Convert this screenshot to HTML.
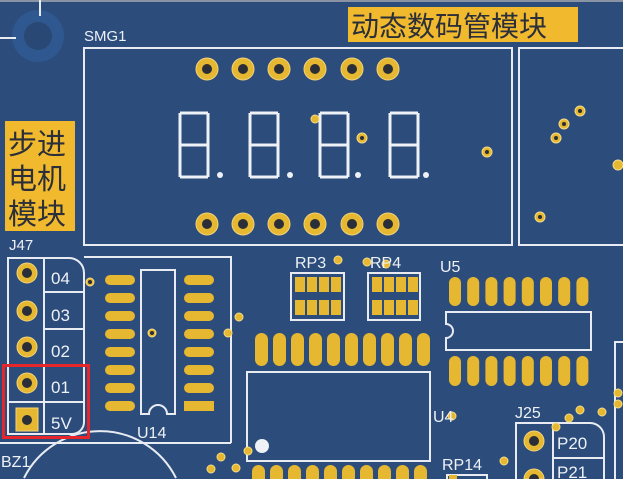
<!DOCTYPE html>
<html><head><meta charset="utf-8"><style>
html,body{margin:0;padding:0;background:#2c4d7c;width:623px;height:479px;overflow:hidden;}
svg{display:block;position:absolute;left:0;top:0}
text{font-family:"Liberation Sans","Noto Sans CJK SC",sans-serif;}
</style></head><body>
<svg width="623" height="479" viewBox="0 0 623 479" xmlns="http://www.w3.org/2000/svg">
<rect width="623" height="479" fill="#2c4d7c"/>
<line x1="0" y1="1" x2="623" y2="1" fill="none" stroke="#8a93a3" stroke-width="2"/>
<circle cx="38" cy="36" r="26" fill="#2f5790"/>
<circle cx="38" cy="36" r="14" fill="#294873"/>
<line x1="40" y1="0" x2="40" y2="16" stroke="#e8ecf2" stroke-width="2"/>
<line x1="0" y1="38" x2="16" y2="38" stroke="#e8ecf2" stroke-width="2"/>

<g fill="none" stroke="#e8ecf2" stroke-width="2">
<rect x="84" y="48" width="428" height="197"/>
<path d="M623 48 H519 V245 H623"/>
<path d="M8 258 H68 A15 15 0 0 1 84 273 V422 A12 12 0 0 1 72 434 H8 Z"/>
<line x1="44" y1="258" x2="44" y2="434"/>
<line x1="44" y1="292" x2="84" y2="292"/>
<line x1="44" y1="329" x2="84" y2="329"/>
<line x1="44" y1="366" x2="84" y2="366"/>
<line x1="8" y1="402" x2="84" y2="402"/>
<path d="M84 257 H231 V443 M0 443 H231"/>
<path d="M141 270 H175 V414 H167 A9 9 0 0 0 149 414 H141 Z"/>
<path d="M24 478 A85 85 0 0 1 176 478"/>
<rect x="291" y="273" width="53" height="47"/>
<rect x="368" y="273" width="52" height="47"/>
<rect x="247" y="372" width="183" height="89"/>
<path d="M446 312 H591 V350 H446 V338 A7 7 0 0 0 446 324 Z"/>
<path d="M623 342 H615 V479"/>
<path d="M516 479 V423 H590 A14 14 0 0 1 604 437 V479"/>
<line x1="553" y1="423" x2="553" y2="479"/>
<line x1="553" y1="458" x2="604" y2="458"/>
<path d="M447 479 V475 H487 V479"/>
</g>

<g fill="none" stroke="#eef1f5" stroke-width="3">
<g id="d"><path d="M180 113 H208 M180 145 H208 M180 177 H208 M180 113 V177 M208 113 V177"/></g>
<use href="#d" x="70"/><use href="#d" x="140"/><use href="#d" x="210"/>
</g>
<g fill="#eef1f5"><circle cx="220" cy="175" r="3"/><circle cx="290" cy="175" r="3"/><circle cx="358" cy="175" r="3"/><circle cx="426" cy="175" r="3"/>
<circle cx="262" cy="446" r="7"/></g>

<g fill="#e6b730" stroke="#f3d37a" stroke-width="1">
<circle cx="207" cy="69" r="11"/><circle cx="243" cy="69" r="11"/><circle cx="279" cy="69" r="11"/><circle cx="315" cy="69" r="11"/><circle cx="352" cy="69" r="11"/><circle cx="388" cy="69" r="11"/>
<circle cx="207" cy="224" r="11"/><circle cx="243" cy="224" r="11"/><circle cx="279" cy="224" r="11"/><circle cx="315" cy="224" r="11"/><circle cx="352" cy="224" r="11"/><circle cx="388" cy="224" r="11"/>
<circle cx="27" cy="273" r="10"/><circle cx="27" cy="311" r="10"/><circle cx="27" cy="347" r="10"/><circle cx="27" cy="383" r="10"/>
<rect x="16" y="408" width="22" height="23"/>
<circle cx="534" cy="441" r="10"/><path d="M524 479 A10 10 0 0 1 544 479 Z"/>
</g>
<g fill="#2a2e38">
<circle cx="207" cy="69" r="5"/><circle cx="243" cy="69" r="5"/><circle cx="279" cy="69" r="5"/><circle cx="315" cy="69" r="5"/><circle cx="352" cy="69" r="5"/><circle cx="388" cy="69" r="5"/>
<circle cx="207" cy="224" r="5"/><circle cx="243" cy="224" r="5"/><circle cx="279" cy="224" r="5"/><circle cx="315" cy="224" r="5"/><circle cx="352" cy="224" r="5"/><circle cx="388" cy="224" r="5"/>
<circle cx="27" cy="273" r="5"/><circle cx="27" cy="311" r="5"/><circle cx="27" cy="347" r="5"/><circle cx="27" cy="383" r="5"/><circle cx="27" cy="420" r="5"/>
<circle cx="534" cy="441" r="5"/><path d="M529 479 A5 5 0 0 1 539 479 Z"/>
</g>

<g fill="#e6b730" stroke="#f5dc8a" stroke-width="1">
<circle cx="487" cy="152" r="5"/><circle cx="362" cy="138" r="5"/><circle cx="315" cy="119" r="4"/>
<circle cx="580" cy="111" r="5"/><circle cx="564" cy="124" r="5"/><circle cx="556" cy="138" r="5"/><circle cx="540" cy="217" r="5"/><circle cx="618" cy="165" r="5"/>
<circle cx="90" cy="282" r="4"/><circle cx="152" cy="333" r="4"/><circle cx="239" cy="317" r="4"/><circle cx="228" cy="333" r="4"/>
<circle cx="221" cy="457" r="4"/><circle cx="211" cy="469" r="4"/><circle cx="236" cy="468" r="4"/><circle cx="248" cy="451" r="4"/>
<circle cx="338" cy="260" r="4"/><circle cx="367" cy="262" r="4"/><circle cx="386" cy="264" r="4"/><circle cx="452" cy="416" r="4"/>
<circle cx="504" cy="461" r="4"/><circle cx="580" cy="410" r="4"/><circle cx="602" cy="412" r="4"/><circle cx="569" cy="418" r="4"/>
<circle cx="618" cy="393" r="4"/><circle cx="618" cy="404" r="4"/><circle cx="556" cy="427" r="4"/>
</g>
<g fill="#2a2e38"><circle cx="487" cy="152" r="2"/><circle cx="362" cy="138" r="2"/><circle cx="580" cy="111" r="2"/><circle cx="564" cy="124" r="2"/><circle cx="556" cy="138" r="2"/><circle cx="540" cy="217" r="2"/><circle cx="152" cy="333" r="2"/><circle cx="90" cy="282" r="2"/></g>

<g fill="#e6b730">
<rect x="105" y="275" width="30" height="10" rx="5"/><rect x="105" y="293" width="30" height="10" rx="5"/><rect x="105" y="311" width="30" height="10" rx="5"/><rect x="105" y="329" width="30" height="10" rx="5"/><rect x="105" y="347" width="30" height="10" rx="5"/><rect x="105" y="365" width="30" height="10" rx="5"/><rect x="105" y="383" width="30" height="10" rx="5"/><rect x="105" y="401" width="30" height="10" rx="5"/>
<rect x="184" y="275" width="30" height="10" rx="5"/><rect x="184" y="293" width="30" height="10" rx="5"/><rect x="184" y="311" width="30" height="10" rx="5"/><rect x="184" y="329" width="30" height="10" rx="5"/><rect x="184" y="347" width="30" height="10" rx="5"/><rect x="184" y="365" width="30" height="10" rx="5"/><rect x="184" y="383" width="30" height="10" rx="5"/><rect x="184" y="401" width="30" height="10"/>
<rect x="295" y="277" width="10" height="15"/><rect x="307" y="277" width="10" height="15"/><rect x="319" y="277" width="10" height="15"/><rect x="331" y="277" width="10" height="15"/>
<rect x="295" y="300" width="10" height="15"/><rect x="307" y="300" width="10" height="15"/><rect x="319" y="300" width="10" height="15"/><rect x="331" y="300" width="10" height="15"/>
<rect x="372" y="277" width="10" height="15"/><rect x="384" y="277" width="10" height="15"/><rect x="396" y="277" width="10" height="15"/><rect x="408" y="277" width="10" height="15"/>
<rect x="372" y="300" width="10" height="15"/><rect x="384" y="300" width="10" height="15"/><rect x="396" y="300" width="10" height="15"/><rect x="408" y="300" width="10" height="15"/>
<g id="r1"><rect x="255" y="333" width="13" height="33" rx="6.5"/></g>
<use href="#r1" x="18"/><use href="#r1" x="36"/><use href="#r1" x="54"/><use href="#r1" x="72"/><use href="#r1" x="90"/><use href="#r1" x="108"/><use href="#r1" x="126"/><use href="#r1" x="144"/><use href="#r1" x="162"/>
<g id="r2"><path d="M252 479 V471.5 A6.5 6.5 0 0 1 265 471.5 V479 Z"/></g>
<use href="#r2" x="18"/><use href="#r2" x="36"/><use href="#r2" x="54"/><use href="#r2" x="72"/><use href="#r2" x="90"/><use href="#r2" x="108"/><use href="#r2" x="126"/><use href="#r2" x="144"/><use href="#r2" x="162"/>
<g id="u5"><rect x="449" y="277" width="12" height="29" rx="6"/><rect x="449" y="356" width="12" height="30" rx="6"/></g>
<use href="#u5" x="18.2"/><use href="#u5" x="36.4"/><use href="#u5" x="54.6"/><use href="#u5" x="72.8"/><use href="#u5" x="91"/><use href="#u5" x="109.2"/><use href="#u5" x="127.4"/>
<rect x="449" y="475" width="8" height="4"/>
</g>

<g fill="#eef1f5" font-size="15">
<text x="84" y="41">SMG1</text>
<text x="9" y="250">J47</text>
<text x="51" y="284" font-size="17">04</text>
<text x="51" y="321" font-size="17">03</text>
<text x="51" y="357" font-size="17">02</text>
<text x="51" y="393" font-size="17">01</text>
<text x="51" y="429" font-size="17">5V</text>
<text x="137" y="438" font-size="16">U14</text>
<text x="1" y="467" font-size="16">BZ1</text>
<text x="295" y="268" font-size="16">RP3</text>
<text x="370" y="268" font-size="16">RP4</text>
<text x="440" y="272" font-size="16">U5</text>
<text x="433" y="422" font-size="16">U4</text>
<text x="442" y="470" font-size="16">RP14</text>
<text x="515" y="418" font-size="16">J25</text>
<text x="557" y="449" font-size="17">P20</text>
<text x="557" y="478" font-size="17">P21</text>
</g>

<rect x="348" y="7" width="230" height="35" fill="#f0b92e"/>
<text x="351" y="36" font-size="28" fill="#2b2f3a">动态数码管模块</text>
<rect x="5" y="121" width="70" height="110" fill="#f0b92e"/>
<g font-size="29" fill="#2b2f3a"><text x="8" y="154">步进</text><text x="8" y="189">电机</text><text x="8" y="224">模块</text></g>

<rect x="3.5" y="365.5" width="85" height="72" fill="none" stroke="#e5262a" stroke-width="3"/>
</svg>
</body></html>
